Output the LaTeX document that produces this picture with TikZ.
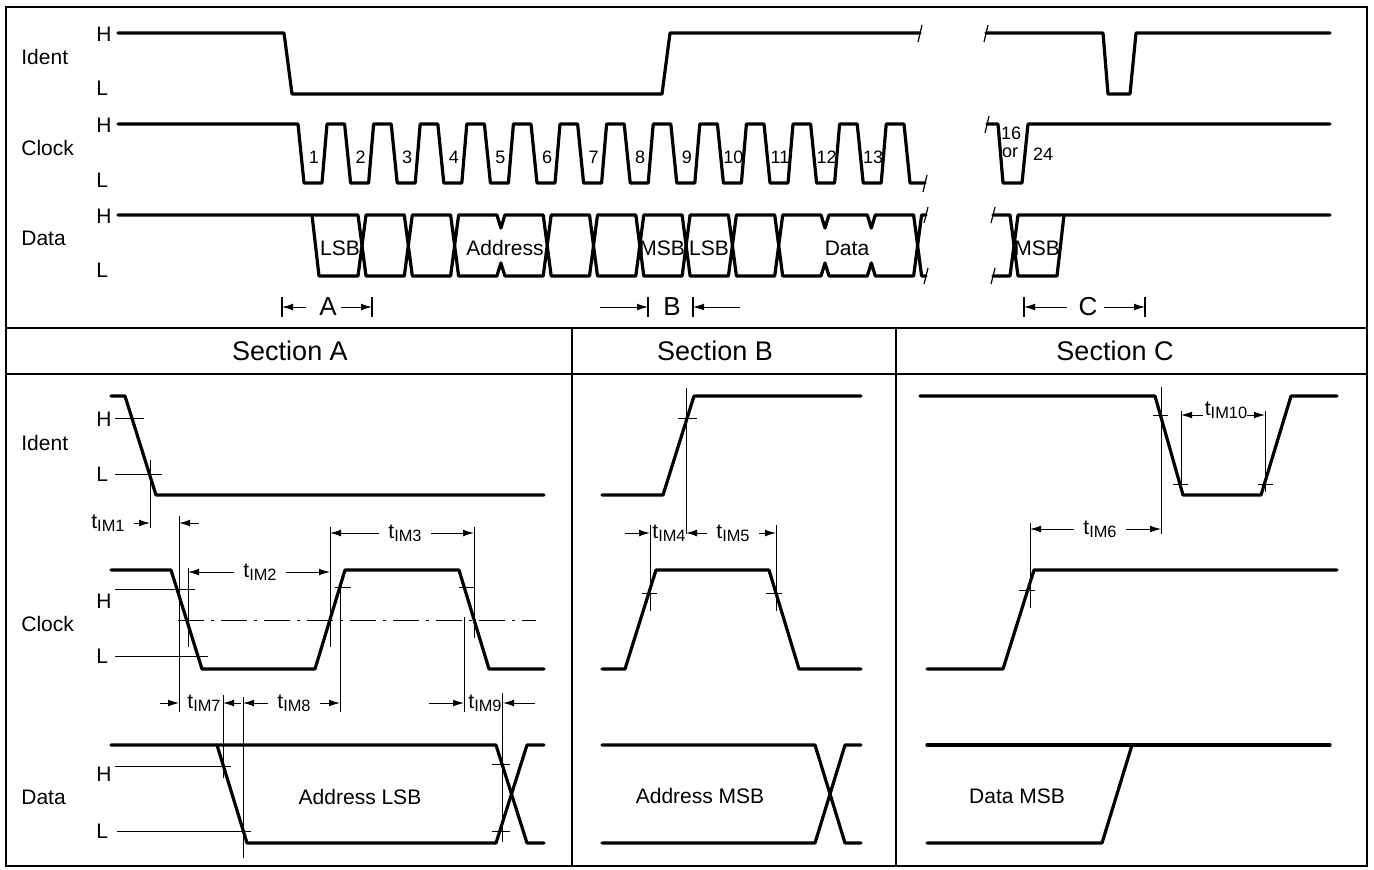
\documentclass[tikz,border=0pt]{standalone}
\usepackage{fontspec}
\setmainfont{Liberation Sans}
\usetikzlibrary{arrows.meta}
\newcommand{\tim}[1]{t\raisebox{-1.6pt}{\fontsize{8.2}{9}\selectfont IM#1}}

\begin{document}
\begin{tikzpicture}[x=0.5pt,y=-0.5pt,
    sig/.style={line width=1.6pt,line join=round,line cap=round},
    fine/.style={line width=0.5pt},
    brk/.style={line width=0.6pt},
    rule/.style={line width=0.9pt},
    dim/.style={line width=0.5pt,-{Latex[length=5.5pt,width=3.4pt]}},
    big/.style={font=\fontsize{13.5}{15}\selectfont},
    lbl/.style={font=\fontsize{10.5}{12}\selectfont},
    row/.style={font=\fontsize{10.5}{12}\selectfont,anchor=west,inner sep=0pt},
    lvl/.style={font=\fontsize{10.5}{12}\selectfont,anchor=west,inner sep=0pt},
    num/.style={font=\fontsize{9}{10}\selectfont,inner sep=0pt},
    tm/.style={font=\fontsize{10.5}{12}\selectfont,inner xsep=4.5pt,inner ysep=1pt}]
  \useasboundingbox (0,0) rectangle (1374,869);
  \draw[rule] (6,7) rectangle (1367,866);
  \draw[rule] (6,328) -- (1367,328) (6,374) -- (1367,374)
    (572,328) -- (572,866) (896,328) -- (896,866);
  \node[big] (secA) at (290,351) {Section A};
  \node[big] (secB) at (715,351) {Section B};
  \node[big] (secC) at (1115,351) {Section C};

  \node[row] (ident) at (21,57) {Ident};
  \node[row] (clock) at (21,148) {Clock};
  \node[row] (data) at (21,238) {Data};
  \foreach \y/\n in {34/iH,125/cH,216/dH} \node[lvl] (\n) at (96,\y) {H};
  \foreach \y/\n in {88/iL,180/cL,270/dL} \node[lvl] (\n) at (96,\y) {L};

  \draw[sig] (118,33) -- (284,33) -- (292,94) -- (662,94) -- (670,33) -- (920,33);
  \draw[sig] (986,33) -- (1103,33) -- (1108,94) -- (1130,94) -- (1136,33) -- (1330,33);
  \draw[sig] (118,124) \foreach \k in {0,...,12} { -- ({298+46.6*\k},124) -- ++(6,59) -- ++(18,0) -- ++(5,-59) }
    -- (904,124) -- (910,183) -- (925,183);
  \draw[sig] (987,124) -- (998,124) -- (1003,183) -- (1022,183) -- (1028,124) -- (1330,124);
  \foreach \k in {1,...,13} \node[num] (n\k) at ({267.4+46.6*\k},157) {\k};
  \node[num] (n16) at (1011,133) {16};
  \node[num] (nor) at (1010,153) {or};
  \node[num] (n24) at (1043,154) {24};

  \draw[sig] (118,215) -- (312,215)
    \foreach \c/\d in {362/30.5,408.3/30.5,454.6/30.5,500.9/13,547.2/30.5,593.5/30.5,639.8/30.5,686.1/30.5,732.4/30.5,778.7/30.5,825/13,871.3/13,917.6/30.5}
    { -- (\c-4,215) -- (\c,215+\d) -- (\c+4,215) } -- (926,215);
  \draw[sig] (312,215) -- (319,276)
    \foreach \c/\d in {362/30.5,408.3/30.5,454.6/30.5,500.9/13,547.2/30.5,593.5/30.5,639.8/30.5,686.1/30.5,732.4/30.5,778.7/30.5,825/13,871.3/13,917.6/30.5}
    { -- (\c-4,276) -- (\c,276-\d) -- (\c+4,276) } -- (926,276);
  \draw[sig] (993,215) -- (1010,215) -- (1014,245.5) -- (1018,215) -- (1330,215);
  \draw[sig] (993,276) -- (1010,276) -- (1014,245.5) -- (1018,276) -- (1057,276) -- (1064,215);
  \node[lbl] (lsb1) at (340,248) {LSB};
  \node[lbl] (addr) at (505,248) {Address};
  \node[lbl] (msb1) at (662,248) {MSB};
  \node[lbl] (lsb2) at (709,248) {LSB};
  \node[lbl] (word) at (847,248) {Data};
  \node[lbl] (msb2) at (1037,248) {MSB};

  \draw[brk] (918,42) -- (922,25) (984,42) -- (988,25)
    (923,192) -- (927,175) (985,133) -- (989,116)
    (924,223) -- (928,207) (924,284) -- (928,268)
    (991,223) -- (995,207) (991,284) -- (995,268);

  \draw[line width=0.7pt] (282,297) -- (282,317) (372,297) -- (372,317)
    (648,297) -- (648,317) (693,297) -- (693,317)
    (1024,297) -- (1024,317) (1145,297) -- (1145,317);
  \node[font=\fontsize{13}{15}\selectfont] (pA) at (328,307) {A};
  \node[font=\fontsize{13}{15}\selectfont] (pB) at (672,307) {B};
  \node[font=\fontsize{13}{15}\selectfont] (pC) at (1088,307) {C};
  \draw[dim] (306,307) -- (282,307);
  \draw[dim] (341,307) -- (372,307);
  \draw[dim] (600,307) -- (648,307);
  \draw[dim] (740,307) -- (693,307);
  \draw[dim] (1067,307) -- (1024,307);
  \draw[dim] (1104,307) -- (1145,307);

  \node[row] (identA) at (21,443) {Ident};
  \node[row] (clockA) at (21,624) {Clock};
  \node[row] (dataA) at (21,797) {Data};
  \foreach \y/\n in {419/aiH,601/acH,774/adH} \node[lvl] (\n) at (96,\y) {H};
  \foreach \y/\n in {474/aiL,656/acL,831/adL} \node[lvl] (\n) at (96,\y) {L};
  \draw[fine] (115,418) -- (144,418) (115,474) -- (162,474)
    (115,589) -- (195,589) (115,656) -- (208,656)
    (115,766) -- (231,766) (117,831) -- (251,831);

  \draw[sig] (111,396) -- (125,396) -- (156,495) -- (544,495);
  \draw[sig] (111,570) -- (171,570) -- (202,669) -- (315,669) -- (345,570) -- (459,570) -- (489,669) -- (544,669);
  \draw[sig] (111,745) -- (496,745) -- (527,843) -- (544,843);
  \draw[sig] (217,745) -- (247,843) -- (496,843) -- (527,745) -- (544,745);
  \draw[fine,dash pattern=on 13pt off 3.5pt on 1.5pt off 3.5pt] (178,620) -- (536,620);
  \draw[fine] (150,460) -- (150,528) (179,516) -- (179,712)
    (188,568) -- (188,647) (330,527) -- (330,647) (340,583) -- (340,712)
    (474,527) -- (474,638) (464,617) -- (464,712)
    (335,587) -- (351,587) (459,587) -- (475,587)
    (223,695) -- (223,778) (243,697) -- (243,858) (502,693) -- (502,842)
    (492,764) -- (510,764) (492,831) -- (510,831);
  \node[tm] (tim1) at (108,523) {\tim{1}};
  \draw[dim] (tim1.east) -- (150,523);
  \draw[dim] (199,523) -- (179,523);
  \node[tm] (tim2) at (260,572) {\tim{2}};
  \draw[dim] (tim2.west) -- (188,572);
  \draw[dim] (tim2.east) -- (330,572);
  \node[tm] (tim3) at (405,533) {\tim{3}};
  \draw[dim] (tim3.west) -- (330,533);
  \draw[dim] (tim3.east) -- (474,533);
  \node[tm] (tim7) at (204,703) {\tim{7}};
  \draw[dim] (160,703) -- (179,703);
  \draw[dim] (241,703) -- (223,703);
  \node[tm] (tim8) at (294,703) {\tim{8}};
  \draw[dim] (tim8.west) -- (243,703);
  \draw[dim] (tim8.east) -- (340,703);
  \node[tm] (tim9) at (485,703) {\tim{9}};
  \draw[dim] (429,703) -- (464,703);
  \draw[dim] (535,703) -- (503,703);
  \node[lbl] (alsb) at (360,797) {Address LSB};

  \draw[sig] (602,495) -- (663,495) -- (694,396) -- (861,396);
  \draw[sig] (602,669) -- (625,669) -- (656,570) -- (769,570) -- (799,669) -- (861,669);
  \draw[sig] (602,745) -- (815,745) -- (845,843) -- (861,843);
  \draw[sig] (602,843) -- (815,843) -- (845,745) -- (861,745);
  \draw[fine] (678,418) -- (697,418) (686,388) -- (686,534)
    (642,593) -- (657,593) (766,593) -- (782,593)
    (650,525) -- (650,611) (776,525) -- (776,611);
  \node[tm] (tim4) at (669,533) {\tim{4}};
  \draw[dim] (625,533) -- (650,533);
  \node[tm] (tim5) at (733,533) {\tim{5}};
  \draw[dim] (tim5.west) -- (686,533);
  \draw[dim] (tim5.east) -- (776,533);
  \node[lbl] (amsb) at (700,796) {Address MSB};

  \draw[sig] (920,396) -- (1155,396) -- (1183,495) -- (1261,495) -- (1291,396) -- (1337,396);
  \draw[sig] (927,669) -- (1003,669) -- (1034,570) -- (1337,570);
  \draw[sig] (927,745) -- (1330,745);
  \draw[sig] (927,843) -- (1102,843) -- (1132,745);
  \draw[fine] (1153,415) -- (1168,415) (1173,484) -- (1188,484) (1258,484) -- (1273,484)
    (1161,387) -- (1161,534) (1181,411) -- (1181,495) (1265,411) -- (1265,492)
    (1019,590) -- (1035,590) (1030,523) -- (1030,608);
  \node[tm] (tim10) at (1226,410) {\tim{10}};
  \draw[dim] (1203,415) -- (1181,415);
  \draw[dim] (1247,415) -- (1265,415);
  \node[tm] (tim6) at (1100,529) {\tim{6}};
  \draw[dim] (tim6.west) -- (1030,529);
  \draw[dim] (tim6.east) -- (1161,529);
  \node[lbl] (dmsb) at (1017,796) {Data MSB};
\end{tikzpicture}
\end{document}
